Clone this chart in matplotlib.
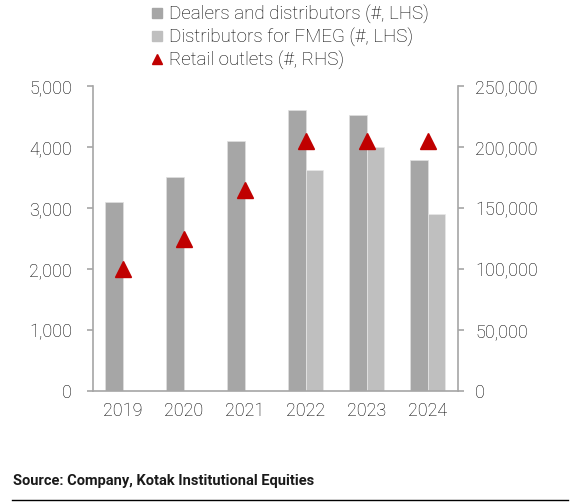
import numpy as np
import matplotlib
matplotlib.use("Agg")
import matplotlib.pyplot as plt
from matplotlib.lines import Line2D
from matplotlib.ticker import FuncFormatter

years = ["2019", "2020", "2021", "2022", "2023", "2024"]
dealers = [3100, 3500, 4100, 4600, 4520, 3790]
fmeg = [np.nan, np.nan, np.nan, 3630, 4000, 2900]
retail = [100000, 125000, 165000, 205000, 205000, 205000]

plt.rcParams['font.family'] = ['Roboto', 'DejaVu Sans']

grey_dark = '#A6A6A6'
grey_light = '#BFBFBF'
red = '#C00000'
axis_grey = '#A6A6A6'
txt = '#000000'

fig = plt.figure(figsize=(5.81, 5.03), dpi=100)
ax = fig.add_axes([92.7 / 581, 1 - 391 / 503, (458 - 92.7) / 581, (391 - 86) / 503])
ax2 = ax.twinx()

x = np.arange(len(years))
w = 0.29
ax.bar(x - w / 2, dealers, width=w, color=grey_dark, edgecolor='#E0E0E0', linewidth=0.5)
ax.bar(x + w / 2, fmeg, width=w, color=grey_light, edgecolor='#E8E8E8', linewidth=0.5)
ax2.plot(x, retail, linestyle='none', marker='^', markersize=11, color=red)

ax.set_xlim(-0.5, 5.5)
ax.set_ylim(0, 5000)
ax.set_yticks(range(0, 5001, 1000))
ax2.set_ylim(0, 250000)
ax2.set_yticks(range(0, 250001, 50000))

fmt = FuncFormatter(lambda v, p: f"{int(v):,}")
ax.yaxis.set_major_formatter(fmt)
ax2.yaxis.set_major_formatter(fmt)
ax.set_xticks(x)
ax.set_xticklabels(years)

for a in (ax, ax2):
    a.spines['top'].set_visible(False)
    for s in ('left', 'right', 'bottom'):
        a.spines[s].set_color(axis_grey)
        a.spines[s].set_linewidth(1.2)
    a.tick_params(axis='y', length=4, width=1.2, color=axis_grey, labelsize=13,
                  labelcolor=txt)
    for lab in a.get_yticklabels() + a.get_xticklabels():
        lab.set_fontweight('light')
ax.tick_params(axis='y', pad=11)
ax2.tick_params(axis='y', pad=8.5)
ax.tick_params(axis='x', length=0, labelsize=13, labelcolor=txt, pad=8)
ax.spines['right'].set_visible(False)
ax2.spines['left'].set_visible(False)
ax2.spines['bottom'].set_visible(False)

handles = [
    Line2D([], [], linestyle='none', marker='s', markersize=7, color=grey_dark),
    Line2D([], [], linestyle='none', marker='s', markersize=7, color=grey_light),
    Line2D([], [], linestyle='none', marker='^', markersize=7.5, color=red),
]
labels = ["Dealers and distributors (#, LHS)", "Distributors for FMEG (#, LHS)",
          "Retail outlets (#, RHS)"]
leg = fig.legend(handles, labels, loc='upper left', bbox_to_anchor=(150 / 581, 1 - 5 / 503),
                 frameon=False, fontsize=13.5, handlelength=0.7, handletextpad=0.3,
                 labelspacing=0.2, borderpad=0, borderaxespad=0)
for t in leg.get_texts():
    t.set_color(txt)
    t.set_fontweight('light')

fig.text(13 / 581, 1 - 481 / 503, "Source: Company, Kotak Institutional Equities",
         fontsize=10.5, fontweight='bold', va='center', ha='left', color='#1a1a1a',
         fontstretch='condensed')
fig.add_artist(Line2D([12 / 581, 568 / 581], [1 - 500 / 503, 1 - 500 / 503],
                      color='black', linewidth=1))

fig.savefig("out.png", dpi=100)
